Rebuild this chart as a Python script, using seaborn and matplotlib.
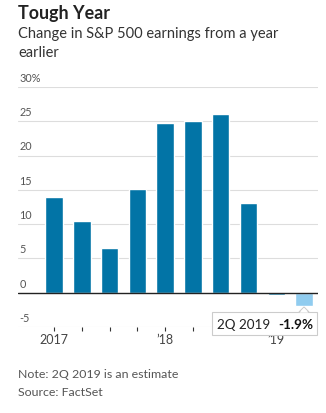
import matplotlib
matplotlib.use("Agg")
import matplotlib.pyplot as plt
import seaborn as sns
from matplotlib.patches import FancyBboxPatch, Polygon

quarters = ["1Q 2017", "2Q 2017", "3Q 2017", "4Q 2017",
            "1Q 2018", "2Q 2018", "3Q 2018", "4Q 2018",
            "1Q 2019", "2Q 2019"]
values = [13.9, 10.4, 6.5, 15.1, 24.7, 25.0, 26.0, 13.1, -0.4, -1.9]
year_labels = {0: "2017", 4: "\u201918", 8: "\u201919"}
y_ticks = [30, 25, 20, 15, 10, 5, 0, -5]
y_tick_labels = ["30%", "25", "20", "15", "10", "5", "0", "-5"]

sns.set_theme(style="white")
plt.rcParams['font.family'] = ['Lato', 'DejaVu Sans']

W, H = 326, 413
fig = plt.figure(figsize=(W / 100, H / 100), dpi=100)
ax = fig.add_axes([18 / W, (H - 327) / H, 300 / W, 240 / H])

dark = "#0274a6"
light = "#90ccef"
colors = [dark] * 9 + [light]
sns.barplot(x=quarters, y=values, hue=quarters, palette=colors, legend=False,
            width=0.63, saturation=1, ax=ax, zorder=3)

ax.set_xlim(-1.295, 9.5)
ax.set_ylim(-5, 30)
for s in ax.spines.values():
    s.set_visible(False)
ax.set_xlabel("")
ax.set_ylabel("")
ax.set_yticks([])
ax.set_xticks(range(len(quarters)))
ax.set_xticklabels([year_labels.get(i, "") for i in range(len(quarters))],
                   fontsize=9, color="#444444")
ax.tick_params(axis="x", length=3, width=0.8, color="#333333", pad=2, bottom=True)

# gridlines and y labels
for t, lab in zip(y_ticks, y_tick_labels):
    if t == 0:
        ax.axhline(t, color="#222222", lw=1.0, zorder=4)
    else:
        ax.axhline(t, color="#dddddd", lw=0.8, zorder=1)
    ax.text(0.005, t + 0.45, lab, transform=ax.get_yaxis_transform(),
            ha="left", va="bottom", fontsize=7.8, color="#555555")

# titles
fig.text(18 / W, 1 - 19 / H, "Tough Year", fontsize=12.9, fontweight="bold",
         color="#222222", ha="left", va="baseline")
fig.text(18 / W, 1 - 38 / H, "Change in S&P 500 earnings from a year",
         fontsize=10.5, color="#333333", ha="left", va="baseline")
fig.text(18 / W, 1 - 57 / H, "earlier",
         fontsize=10.5, color="#333333", ha="left", va="baseline")

# notes
fig.text(18 / W, 1 - 378 / H, "Note: 2Q 2019 is an estimate",
         fontsize=8.95, color="#555555", ha="left", va="baseline")
fig.text(18 / W, 1 - 396 / H, "Source: FactSet",
         fontsize=8.95, color="#555555", ha="left", va="baseline")

# tooltip
bx0, bx1, by0, by1 = 212, 317, 312, 335
box = FancyBboxPatch((bx0 / W, 1 - by1 / H), (bx1 - bx0) / W, (by1 - by0) / H,
                     boxstyle="square,pad=0", transform=fig.transFigure,
                     facecolor="white", edgecolor="#cccccc", lw=0.8, zorder=10)
fig.patches.append(box)
px = 304
tri = Polygon([((px - 5) / W, 1 - by0 / H), ((px + 5) / W, 1 - by0 / H),
               (px / W, 1 - (by0 - 5) / H)], closed=True,
              transform=fig.transFigure, facecolor="white", edgecolor="#cccccc",
              lw=0.8, zorder=11)
fig.patches.append(tri)
cover = Polygon([((px - 4.3) / W, 1 - (by0 + 0.6) / H), ((px + 4.3) / W, 1 - (by0 + 0.6) / H),
                 (px / W, 1 - (by0 - 4) / H)], closed=True,
                transform=fig.transFigure, facecolor="white", edgecolor="none", zorder=12)
fig.patches.append(cover)
fig.text(217 / W, 1 - 329 / H, quarters[-1], fontsize=9.7, color="#222222",
         ha="left", va="baseline", zorder=13)
fig.text(313 / W, 1 - 329 / H, f"{values[-1]:.1f}%", fontsize=9.7, color="#111111",
         fontweight="bold", ha="right", va="baseline", zorder=13)

fig.savefig("out.png", dpi=100, facecolor="white")
